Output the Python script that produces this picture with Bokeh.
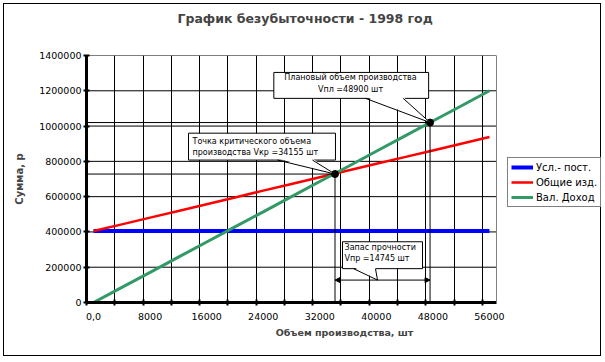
from bokeh.plotting import figure
from bokeh.models import (FixedTicker, Range1d, Legend, LegendItem, Label,
                          Arrow, NormalHead, Span)
from bokeh.embed import file_html
from bokeh.resources import INLINE

# ---------------- data ----------------
volume = [0, 4000, 8000, 12000, 16000, 20000, 24000, 28000,
          32000, 36000, 40000, 44000, 48000, 52000, 56000]
fixed_costs = [405000, 405000, 405000, 405000, 405000, 405000, 405000, 405000,
               405000, 405000, 405000, 405000, 405000, 405000, 405000]
total_costs = [405000, 443000, 481000, 519000, 557000, 595000, 634000, 672000,
               710000, 748000, 786000, 824000, 862000, 900000, 938000]
revenue = [0, 86000, 171000, 257000, 343000, 429000, 514000, 600000,
           686000, 771000, 857000, 943000, 1029000, 1114000, 1200000]
series_names = ["Усл.- пост.", "Общие изд.", "Вал. Доход"]

x_tick_values = [0, 8000, 16000, 24000, 32000, 40000, 48000, 56000]
x_tick_labels = ["0,0", "8000", "16000", "24000", "32000", "40000", "48000", "56000"]
x_grid_values = [-1000, 3000, 7000, 11000, 15000, 19000, 23000, 27000,
                 31000, 35000, 39000, 43000, 47000, 51000, 55000]
y_tick_values = [0, 200000, 400000, 600000, 800000, 1000000, 1200000, 1400000]
y_tick_labels = ["0", "200000", "400000", "600000", "800000", "1000000",
                 "1200000", "1400000"]

# key points: critical volume and planned volume (as drawn)
key_x = [34155, 47600]
key_y = [728000, 1020000]
safety_arrow_y = 127000

title_text = "График безубыточности - 1998 год"
x_title = "Объем производства, шт"
y_title = "Сумма, р"

# ---------------- geometry ----------------
X0, X1 = -1000, 57000          # plot-area extent (category axis edges)
Y0, Y1 = 0, 1400000
CANVAS_W, CANVAS_H = 598, 353
LEFT, TOP, PLOT_W, PLOT_H = 82, 51, 410, 247
FRAME_W = CANVAS_W - LEFT      # frame also hosts the legend on its right
X_FRAME_END = X0 + (X1 - X0) * FRAME_W / PLOT_W

p = figure(width=CANVAS_W, height=CANVAS_H, x_range=Range1d(X0, X_FRAME_END),
           y_range=Range1d(Y0, Y1), output_backend="svg", toolbar_location=None,
           min_border_left=LEFT, min_border_right=0, min_border_top=TOP,
           min_border_bottom=CANVAS_H - TOP - PLOT_H,
           title=title_text + "\n\n")
p.margin = (3, 0, 0, 3)
p.styles = {"border": "1px solid black"}
p.background_fill_color = "white"
p.border_fill_color = "white"
p.outline_line_color = None

FONT = "DejaVu Sans"
p.title.text_font = FONT
p.title.text_font_size = "12.5px"
p.title.text_font_style = "bold"
p.title.text_line_height = 1.0
p.title.align = "left"
p.title.offset = 91
p.title.standoff = 0

# x axis
xa = p.xaxis[0]
xa.bounds = (X0, X1)
xa.ticker = FixedTicker(ticks=x_tick_values, minor_ticks=x_grid_values)
xa.major_label_overrides = {v: t for v, t in zip(x_tick_values, x_tick_labels)}
xa.major_tick_line_color = None
xa.major_tick_out = 3
xa.major_tick_in = 0
xa.minor_tick_in = 3
xa.minor_tick_out = 3
xa.minor_tick_line_width = 2
xa.minor_tick_line_color = "black"
xa.axis_line_width = 3
xa.axis_line_color = "black"
xa.major_label_standoff = 7
xa.major_label_text_font = FONT
xa.major_label_text_font_size = "9.5px"
xa.major_label_text_color = "black"
xa.axis_label = x_title
xa.axis_label_text_font = FONT
xa.axis_label_text_font_size = "9.5px"
xa.axis_label_text_font_style = "bold"
xa.axis_label_standoff = 4

# y axis
ya = p.yaxis[0]
ya.ticker = FixedTicker(ticks=y_tick_values)
ya.major_label_overrides = {v: t for v, t in zip(y_tick_values, y_tick_labels)}
ya.major_tick_in = 3
ya.major_tick_out = 3
ya.major_tick_line_width = 2
ya.minor_tick_line_color = None
ya.axis_line_width = 3
ya.axis_line_color = "black"
ya.major_label_standoff = 2
ya.major_label_text_font = FONT
ya.major_label_text_font_size = "9.5px"
ya.major_label_text_color = "black"
ya.axis_label = y_title
ya.axis_label_text_font = FONT
ya.axis_label_text_font_size = "10px"
ya.axis_label_text_font_style = "bold"
ya.axis_label_standoff = 11

# grids: vertical from the grid ticker, horizontal limited to the plot area
p.xgrid.ticker = FixedTicker(ticks=x_grid_values)
p.xgrid.bounds = (X0, X1)
p.xgrid.grid_line_color = "black"
p.xgrid.grid_line_width = 1
p.ygrid.grid_line_color = None
p.segment(x0=[X0] * len(y_tick_values), x1=[X1] * len(y_tick_values),
          y0=y_tick_values, y1=y_tick_values, line_color="black", line_width=1)
# plot-area right border
p.add_layout(Span(location=X1, dimension="height", line_color="#808080", line_width=1))

# ---------------- series ----------------
r_fixed = p.line(volume, fixed_costs, line_color="#0000FF", line_width=4)
r_total = p.line(volume, total_costs, line_color="#FF0000", line_width=2.5)
r_rev = p.line(volume, revenue, line_color="#339966", line_width=3)

# drop lines to the key points
p.segment(x0=[X0, X0], y0=key_y, x1=key_x, y1=key_y, line_color="black", line_width=1)
p.segment(x0=key_x, y0=[0, 0], x1=key_x, y1=key_y, line_color="black", line_width=1)
p.scatter(key_x, key_y, marker="circle", size=7, fill_color="black", line_color="black")

# safety-margin arrow
p.add_layout(Arrow(start=NormalHead(size=5, fill_color="black", line_color="black"),
                   end=NormalHead(size=5, fill_color="black", line_color="black"),
                   x_start=key_x[0], x_end=key_x[1], y_start=safety_arrow_y, y_end=safety_arrow_y,
                   line_color="black", line_width=1))

# ---------------- callouts ----------------
callouts = [
    dict(box=(25500, 47400, 1304000, 1157000), base=(38470, 43800), tip=(key_x[1], key_y[1]),
         lines=["Плановый объем производства", "Vпл =48900 шт"], align="center",
         tx=36350, ty=[1275000, 1208000]),
    dict(box=(13430, 34220, 959700, 807300), base=(26020, 30970), tip=(key_x[0], key_y[0]),
         lines=["Точка критического объема", "производства Vкр =34155 шт"], align="left",
         tx=14000, ty=[914500, 852400]),
    dict(box=(35215, 46530, 344300, 191900), base=(36770, 39880), tip=(40170, safety_arrow_y),
         lines=["Запас прочности", "Vпр =14745 шт"], align="left",
         tx=35500, ty=[310500, 251200]),
]
eps = 9000
for c in callouts:
    l, r, t, b = c["box"]
    p.quad(left=[l], right=[r], top=[t], bottom=[b], fill_color="white",
           line_color="black", line_width=1, level="overlay")
    bl, br = c["base"]
    tx_, ty_ = c["tip"]
    p.patch([bl, br, tx_], [b + eps, b + eps, ty_], fill_color="white", line_color=None,
            level="overlay")
    p.segment(x0=[bl, br], y0=[b, b], x1=[tx_, tx_], y1=[ty_, ty_], line_color="black",
              line_width=1, level="overlay")
    for line, yy in zip(c["lines"], c["ty"]):
        p.add_layout(Label(x=c["tx"], y=yy, text=line, text_align=c["align"],
                           text_baseline="middle", text_font=FONT, text_font_size="8px",
                           text_color="black", level="overlay"))

# ---------------- legend ----------------
legend = Legend(items=[LegendItem(label=series_names[0], renderers=[r_fixed]),
                       LegendItem(label=series_names[1], renderers=[r_total]),
                       LegendItem(label=series_names[2], renderers=[r_rev])],
                location=(421, 95))
legend.border_line_color = "black"
legend.border_line_width = 1
legend.background_fill_color = "white"
legend.background_fill_alpha = 1
legend.label_text_font = FONT
legend.label_text_font_size = "10px"
legend.label_text_color = "black"
legend.glyph_width = 22
legend.glyph_height = 12
legend.label_height = 12
legend.label_standoff = 3
legend.spacing = 3
legend.padding = 3
legend.margin = 0
p.add_layout(legend)

open("out.html", "w").write(file_html(p, INLINE))
